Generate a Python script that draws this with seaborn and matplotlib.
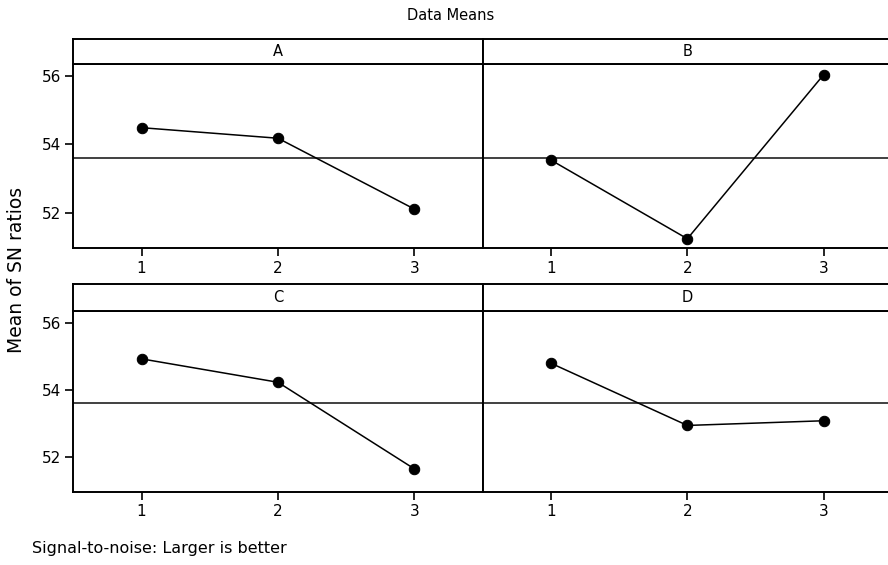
import pandas as pd
import numpy as np
import matplotlib
matplotlib.use('Agg')
import matplotlib.pyplot as plt
import seaborn as sns

factors = ['A', 'B', 'C', 'D']
levels = [1, 2, 3]
mean_A = [54.49, 54.18, 52.10]
mean_B = [53.54, 51.23, 56.05]
mean_C = [54.92, 54.22, 51.63]
mean_D = [54.79, 52.93, 53.07]
grand_mean = 53.59
y_ticks = [52, 54, 56]

rows = []
for f, vals in zip(factors, [mean_A, mean_B, mean_C, mean_D]):
    for lv, v in zip(levels, vals):
        rows.append({'factor': f, 'level': lv, 'sn': v})
df = pd.DataFrame(rows)

sns.set_style('white')
plt.rcParams['font.family'] = ['DejaVu Sans']
plt.rcParams['text.color'] = 'black'
plt.rcParams['xtick.color'] = 'black'
plt.rcParams['ytick.color'] = 'black'

W, H = 888, 565
fig = plt.figure(figsize=(W / 100, H / 100), dpi=100)

def px(x0, y0, x1, y1):
    return [x0 / W, 1 - y1 / H, (x1 - x0) / W, (y1 - y0) / H]

# (plot box, strip box) in pixels
boxes = {
    'A': ((73.3, 64.3, 482.7, 248.3), (73.3, 39.3, 482.7, 64.3)),
    'B': ((482.7, 64.3, 892.0, 248.3), (482.7, 39.3, 892.0, 64.3)),
    'C': ((73.3, 311.0, 482.7, 491.7), (73.3, 284.3, 482.7, 311.0)),
    'D': ((482.7, 311.0, 892.0, 491.7), (482.7, 284.3, 892.0, 311.0)),
}

for f in factors:
    pbox, sbox = boxes[f]
    ax = fig.add_axes(px(*pbox))
    sub = df[df['factor'] == f]
    ax.axhline(grand_mean, color='#404040', lw=1.4, zorder=1)
    sns.lineplot(data=sub, x='level', y='sn', ax=ax, color='black', lw=1.1,
                 marker='o', markersize=7.5, markeredgecolor='black', zorder=3)
    ax.set_xlim(0.5, 3.5)
    ax.set_ylim(50.95, 56.35)
    ax.set_xticks(levels)
    ax.set_yticks(y_ticks)
    ax.set_xlabel('')
    ax.set_ylabel('')
    ax.tick_params(axis='both', direction='out', length=6, width=1.2,
                   colors='black', labelsize=11, pad=3)
    if f in ('B', 'D'):
        ax.tick_params(axis='y', left=False, labelleft=False)
    else:
        ax.tick_params(axis='y', left=True)
    ax.tick_params(axis='x', bottom=True)
    for s in ax.spines.values():
        s.set_color('black')
        s.set_linewidth(1.4)

    sax = fig.add_axes(px(*sbox))
    sax.set_xticks([])
    sax.set_yticks([])
    for s in sax.spines.values():
        s.set_color('black')
        s.set_linewidth(1.4)
    sax.text(0.5, 0.5, f, ha='center', va='center', fontsize=10.5,
             transform=sax.transAxes)

fig.text(451 / W, 1 - 15 / H, 'Data Means', ha='center', va='center', fontsize=10.5)
fig.text(17 / W, 1 - 270 / H, 'Mean of SN ratios', ha='center', va='center',
         rotation=90, fontsize=13.5)
fig.text(32 / W, 1 - 548 / H, 'Signal-to-noise: Larger is better', ha='left',
         va='center', fontsize=11.5)

plt.savefig('out.png', dpi=100)
plt.close()
